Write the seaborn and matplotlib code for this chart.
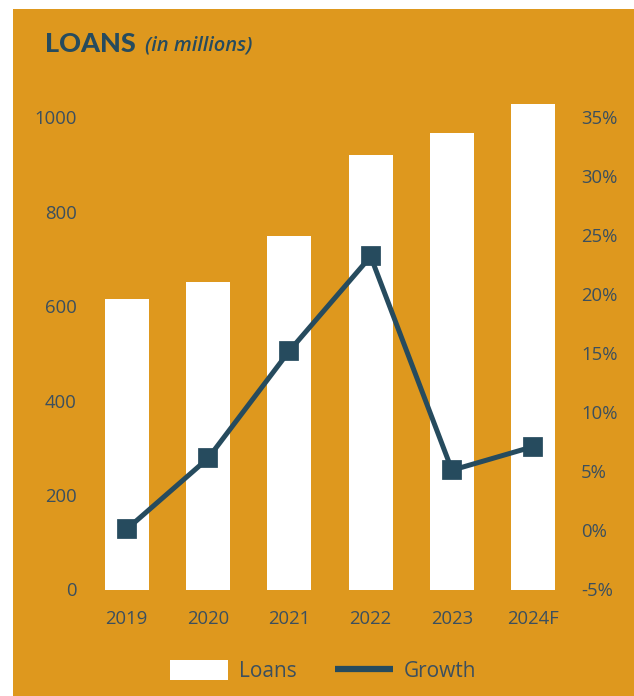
import matplotlib
matplotlib.use("Agg")
import matplotlib.pyplot as plt
from matplotlib.patches import Patch, Rectangle
from matplotlib.lines import Line2D
import seaborn as sns

# Loans (in millions) and year-over-year growth (%)
years = ["2019", "2020", "2021", "2022", "2023", "2024F"]
loans = [615, 651, 748, 920, 966, 1027]
growth = [0.1, 6.1, 15.2, 23.2, 5.1, 7.1]
left_ticks = [0, 200, 400, 600, 800, 1000]
right_ticks = [-5, 0, 5, 10, 15, 20, 25, 30, 35]

ORANGE = "#DE981E"
NAVY = "#264B5E"
TEXT = "#3B4F5E"

sns.set_theme(style="white")
plt.rcParams["font.family"] = ["Open Sans", "DejaVu Sans"]

fig = plt.figure(figsize=(6.34, 6.96), dpi=100, facecolor="white")
fig.patches.append(Rectangle((13 / 634, 0), 1 - 13 / 634, 1 - 9 / 696,
                             transform=fig.transFigure, facecolor=ORANGE,
                             edgecolor="none", zorder=-10))

ax = fig.add_axes([86 / 634, 1 - 589.5 / 696, (574 - 86) / 634, (589.5 - 100) / 696])
ax.set_facecolor("none")

sns.barplot(x=years, y=loans, ax=ax, color="white", width=0.54,
            saturation=1, edgecolor="none", linewidth=0)

ax2 = ax.twinx()
ax2.set_facecolor("none")
sns.pointplot(x=years, y=growth, ax=ax2, color=NAVY, markers="s",
              errorbar=None, linewidth=3.6, markersize=11.5)

ymax = 1036
ax.set_ylim(0, ymax)
ax2.set_ylim(-5, -5 + ymax / 25)
ax.set_xlim(-0.5, 5.5)
ax2.set_xlim(-0.5, 5.5)

ax.set_yticks(left_ticks)
ax.set_yticklabels([str(v) for v in left_ticks])
ax2.set_yticks(right_ticks)
ax2.set_yticklabels([f"{v}%" for v in right_ticks])
ax.set_xticks(range(len(years)))
ax.set_xticklabels(years)

for a in (ax, ax2):
    a.set_xlabel("")
    a.set_ylabel("")
    for s in a.spines.values():
        s.set_visible(False)
    a.grid(False)

ax.tick_params(axis="y", length=0, pad=6.5, labelsize=13.3, labelcolor=TEXT)
ax.tick_params(axis="x", length=0, pad=15, labelsize=13.3, labelcolor=TEXT)
ax2.tick_params(axis="y", length=0, pad=5, labelsize=13.3, labelcolor=TEXT)

# Title
fig.text(45 / 634, 1 - 44 / 696, "LOANS", fontsize=19.5, fontweight="black",
         color=NAVY, family=["Lato", "DejaVu Sans"], va="center", ha="left")
fig.text(145 / 634, 1 - 46 / 696, "(in millions)", fontsize=14.5,
         fontstyle="italic", fontweight="semibold", color=NAVY,
         va="center", ha="left")

handles = [Patch(facecolor="white", edgecolor="none"),
           Line2D([0], [0], color=NAVY, linewidth=4.5, solid_capstyle="butt")]
fig.legend(handles, ["Loans", "Growth"], loc="center",
           bbox_to_anchor=(323 / 634, 1 - 671 / 696), ncol=2, frameon=False,
           fontsize=15, labelcolor=TEXT, handlelength=2.76, handleheight=1.1,
           handletextpad=0.52, columnspacing=1.86)

fig.savefig("out.png", dpi=100, facecolor="white")
